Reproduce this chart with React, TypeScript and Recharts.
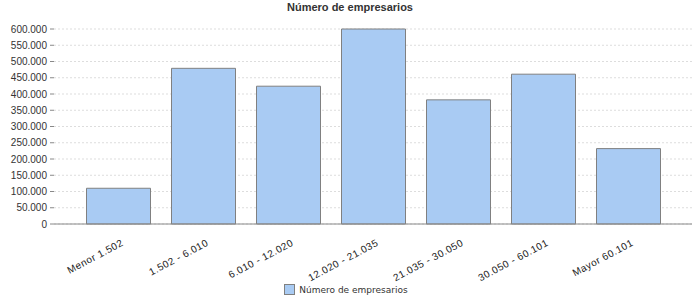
import React from "react";
import {
  BarChart,
  Bar,
  XAxis,
  YAxis,
  CartesianGrid,
  Legend,
} from "recharts";

const categories = [
  "Menor 1.502",
  "1.502 - 6.010",
  "6.010 - 12.020",
  "12.020 - 21.035",
  "21.035 - 30.050",
  "30.050 - 60.101",
  "Mayor 60.101",
];

const empresarios = [110000, 479000, 424000, 600000, 382000, 461000, 232000];

const yTicks = [
  0, 50000, 100000, 150000, 200000, 250000, 300000, 350000, 400000, 450000,
  500000, 550000, 600000,
];

const data = categories.map((name, i) => ({
  name,
  value: empresarios[i],
}));

const fmt = (v: number) =>
  v === 0 ? "0" : String(v).replace(/\B(?=(\d{3})+(?!\d))/g, ".");

const AngledTick = (props: any) => {
  const { x, y, payload } = props;
  const ax = x + 6;
  const ay = y + 13;
  return (
    <text
      x={ax}
      y={ay}
      textAnchor="end"
      transform={`rotate(-28, ${ax}, ${ay})`}
      fontFamily="Liberation Sans, Arial, sans-serif"
      fontSize={10}
      letterSpacing={0.5}
      fill="#222"
    >
      {payload.value}
    </text>
  );
};

const LegendContent = () => (
  <div
    style={{
      display: "flex",
      justifyContent: "center",
      alignItems: "center",
      fontFamily: "DejaVu Sans, Verdana, sans-serif",
      fontSize: 9,
      color: "#333",
    }}
  >
    <span
      style={{
        display: "inline-block",
        width: 9,
        height: 9,
        background: "#a9cbf3",
        border: "1px solid #808080",
        marginRight: 4,
      }}
    />
    <span>Número de empresarios</span>
  </div>
);

export default function App() {
  return (
    <div
      style={{
        position: "absolute",
        left: 0,
        top: 0,
        width: 700,
        height: 300,
        background: "#fff",
      }}
    >
      <div
        style={{
          position: "absolute",
          top: 0,
          left: 0,
          width: 700,
          textAlign: "center",
          fontFamily: "Liberation Sans, Arial, sans-serif",
          fontWeight: "bold",
          fontSize: 11,
          color: "#333",
          lineHeight: "15px",
        }}
      >
        Número de empresarios
      </div>
      <BarChart
        width={700}
        height={300}
        data={data}
        margin={{ top: 29, right: 8, left: 0, bottom: 0 }}
        barSize={64}
      >
        <CartesianGrid
          vertical={false}
          stroke="#dddddd"
          strokeDasharray="2 2"
        />
        <XAxis
          dataKey="name"
          interval={0}
          padding={{ left: 21.5, right: 21.5 }}
          axisLine={{ stroke: "#888" }}
          tickLine={false}
          tick={<AngledTick />}
          height={60}
        />
        <YAxis
          width={54}
          domain={[0, 600000]}
          ticks={yTicks}
          tickFormatter={fmt}
          axisLine={false}
          tickLine={{ stroke: "#888" }}
          tickSize={4}
          tickMargin={3}
          tick={{
            fontFamily: "Liberation Sans, Arial, sans-serif",
            fontSize: 10,
            fill: "#333",
          }}
          interval={0}
        />
        <Legend
          verticalAlign="bottom"
          height={16}
          content={<LegendContent />}
        />
        <Bar
          dataKey="value"
          name="Número de empresarios"
          fill="#a9cbf3"
          stroke="#808080"
          strokeWidth={1}
          isAnimationActive={false}
        />
      </BarChart>
    </div>
  );
}
